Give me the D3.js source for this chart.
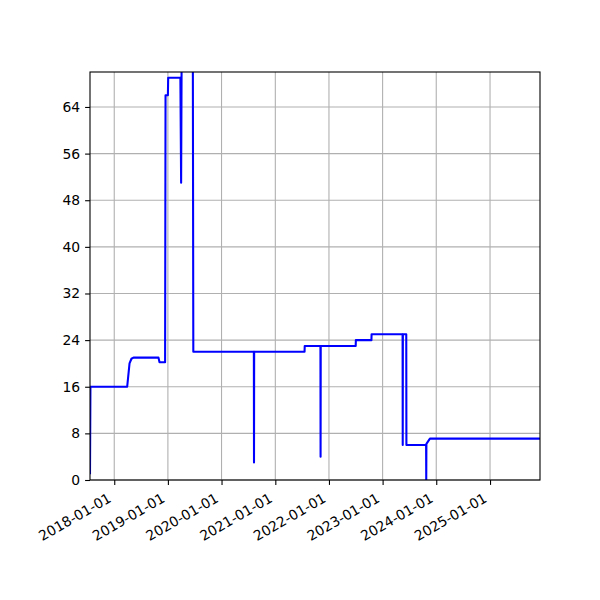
<!DOCTYPE html>
<html>
<head>
<meta charset="utf-8">
<script src="https://cdn.jsdelivr.net/npm/d3@7"></script>
<style>
  html, body { margin: 0; padding: 0; background: #ffffff; }
  svg { display: block; }
  text { font-family: "DejaVu Sans", sans-serif; }
</style>
</head>
<body>
<svg id="chart" width="600" height="600"></svg>
<script>
// ---- data ----
const dates = [
  "2017-07-20", "2017-07-23", "2018-03-30", "2018-04-15", "2018-04-28", "2018-05-12",
  "2018-10-29", "2018-11-05", "2018-12-13", "2018-12-16", "2019-01-01", "2019-01-03",
  "2019-03-27", "2019-04-01", "2019-04-09", "2019-06-18", "2019-06-23",
  "2020-08-08", "2020-08-09", "2020-08-10",
  "2021-07-19", "2021-07-20",
  "2021-11-04", "2021-11-05", "2021-11-06",
  "2022-07-02", "2022-07-03",
  "2022-10-17", "2022-10-18",
  "2023-05-17", "2023-05-18", "2023-05-19",
  "2023-06-11", "2023-06-12",
  "2023-10-24", "2023-10-25", "2023-10-26",
  "2023-11-19", "2025-12-07"
];
const values = [
  1, 16, 16, 20, 20.8, 21,
  21, 20.2, 20.2, 66, 66, 69,
  69, 51, 100, 100, 22,
  22, 3, 22,
  22, 23,
  23, 4, 23,
  23, 24,
  24, 25,
  25, 6, 25,
  25, 6,
  6, 0, 6.2,
  7.1, 7.1
];
const yTicks = [0, 8, 16, 24, 32, 40, 48, 56, 64];
const xTickLabels = ["2018-01-01", "2019-01-01", "2020-01-01", "2021-01-01",
                     "2022-01-01", "2023-01-01", "2024-01-01", "2025-01-01"];
const yMax = 70;

// ---- layout ----
const mLeft = 90, mRight = 540, mTop = 72, mBottom = 480;
const parse = d3.utcParse("%Y-%m-%d");
const pts = dates.map((d, i) => ({ t: parse(d), v: values[i] }));

const x = d3.scaleUtc()
  .domain(d3.extent(pts, d => d.t))
  .range([mLeft, mRight]);
const y = d3.scaleLinear().domain([0, yMax]).range([mBottom, mTop]);

const svg = d3.select("#chart");

// grid
const gridG = svg.append("g");
xTickLabels.forEach(s => {
  const px = x(parse(s));
  gridG.append("line")
    .attr("x1", px).attr("x2", px).attr("y1", mTop).attr("y2", mBottom)
    .attr("stroke", "#b0b0b0").attr("stroke-width", 1.1);
});
yTicks.forEach(v => {
  gridG.append("line")
    .attr("x1", mLeft).attr("x2", mRight).attr("y1", y(v)).attr("y2", y(v))
    .attr("stroke", "#b0b0b0").attr("stroke-width", 1.1);
});

// clip
svg.append("clipPath").attr("id", "clip")
  .append("rect").attr("x", mLeft).attr("y", mTop)
  .attr("width", mRight - mLeft).attr("height", mBottom - mTop);

// line
const line = d3.line().x(d => x(d.t)).y(d => y(d.v));
svg.append("path")
  .datum(pts)
  .attr("clip-path", "url(#clip)")
  .attr("fill", "none")
  .attr("stroke", "#0000ff")
  .attr("stroke-width", 2.08)
  .attr("stroke-linejoin", "round")
  .attr("stroke-linecap", "butt")
  .attr("d", line);

// spines
svg.append("rect")
  .attr("x", mLeft).attr("y", mTop)
  .attr("width", mRight - mLeft).attr("height", mBottom - mTop)
  .attr("fill", "none").attr("stroke", "#000").attr("stroke-width", 1.1);

// y axis
const yAxis = d3.axisLeft(y).tickValues(yTicks).tickSize(4.9).tickPadding(4.9);
const yg = svg.append("g").attr("transform", `translate(${mLeft},0)`).call(yAxis);
yg.select(".domain").remove();
yg.selectAll(".tick line").attr("stroke", "#000").attr("stroke-width", 1.1);
yg.selectAll(".tick text").attr("font-size", 13.9).attr("fill", "#000")
  .attr("font-family", "DejaVu Sans, sans-serif");

// x axis
const xAxis = d3.axisBottom(x)
  .tickValues(xTickLabels.map(parse))
  .tickFormat(d3.utcFormat("%Y-%m-%d"))
  .tickSize(4.9).tickPadding(4.9);
const xg = svg.append("g").attr("transform", `translate(0,${mBottom})`).call(xAxis);
xg.select(".domain").remove();
xg.selectAll(".tick line").attr("stroke", "#000").attr("stroke-width", 1.1);
xg.selectAll(".tick text")
  .attr("font-size", 13.9).attr("fill", "#000")
  .attr("font-family", "DejaVu Sans, sans-serif")
  .attr("text-anchor", "end")
  .attr("dy", null)
  .attr("x", -2.5)
  .attr("y", 21)
  .attr("transform", "rotate(-30, -2.5, 21)");
</script>
</body>
</html>
